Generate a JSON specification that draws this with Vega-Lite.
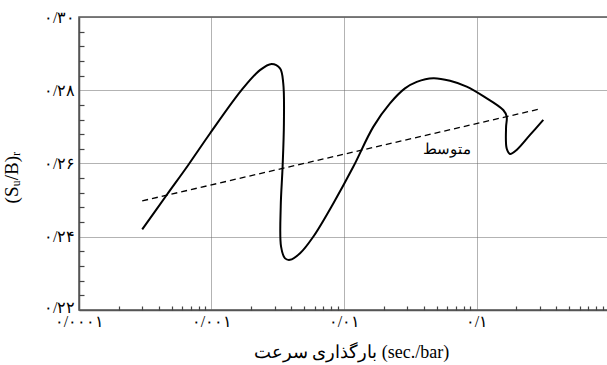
{
  "$schema": "https://vega.github.io/schema/vega-lite/v6.json",
  "autosize": "none",
  "width": 530,
  "height": 293,
  "padding": {"left": 79, "top": 17, "right": 0, "bottom": 55},
  "background": "white",
  "config": {
    "view": {"stroke": "#555", "strokeWidth": 1.5},
    "font": "Liberation Serif"
  },
  "datasets": {
    "curve": [
      {"i": 1, "x": 0.000300, "y": 0.2420},
      {"i": 2, "x": 0.000459, "y": 0.2514},
      {"i": 3, "x": 0.000668, "y": 0.2596},
      {"i": 4, "x": 0.000974, "y": 0.2682},
      {"i": 5, "x": 0.00169, "y": 0.2801},
      {"i": 6, "x": 0.00232, "y": 0.2855},
      {"i": 7, "x": 0.00284, "y": 0.2872},
      {"i": 8, "x": 0.00329, "y": 0.2860},
      {"i": 9, "x": 0.00348, "y": 0.2819},
      {"i": 10, "x": 0.00352, "y": 0.2710},
      {"i": 11, "x": 0.00344, "y": 0.2591},
      {"i": 12, "x": 0.00333, "y": 0.2482},
      {"i": 13, "x": 0.00335, "y": 0.2373},
      {"i": 14, "x": 0.00359, "y": 0.2341},
      {"i": 15, "x": 0.00391, "y": 0.2337},
      {"i": 16, "x": 0.00466, "y": 0.2355},
      {"i": 17, "x": 0.00586, "y": 0.2400},
      {"i": 18, "x": 0.00830, "y": 0.2491},
      {"i": 19, "x": 0.01175, "y": 0.2591},
      {"i": 20, "x": 0.01663, "y": 0.2700},
      {"i": 21, "x": 0.02223, "y": 0.2764},
      {"i": 22, "x": 0.02884, "y": 0.2805},
      {"i": 23, "x": 0.03540, "y": 0.2823},
      {"i": 24, "x": 0.04721, "y": 0.2833},
      {"i": 25, "x": 0.0631, "y": 0.2826},
      {"i": 26, "x": 0.0843, "y": 0.2810},
      {"i": 27, "x": 0.1125, "y": 0.2784},
      {"i": 28, "x": 0.1592, "y": 0.2746},
      {"i": 29, "x": 0.1690, "y": 0.2728},
      {"i": 30, "x": 0.1672, "y": 0.2700},
      {"i": 31, "x": 0.1690, "y": 0.2641},
      {"i": 32, "x": 0.1791, "y": 0.2626},
      {"i": 33, "x": 0.2009, "y": 0.2637},
      {"i": 34, "x": 0.2535, "y": 0.2678},
      {"i": 35, "x": 0.3192, "y": 0.2719}
    ],
    "avg": [
      {"i": 1, "x": 0.000300, "y": 0.2498},
      {"i": 2, "x": 0.3013, "y": 0.2749}
    ],
    "lbl": [
      {"x": 0.0596, "y": 0.2639, "t": "متوسط"}
    ]
  },
  "resolve": {"axis": {"x": "independent", "y": "independent"}},
  "layer": [
    {
      "data": {"name": "curve"},
      "mark": {"type": "line", "color": "black", "strokeWidth": 2, "interpolate": "catmull-rom"},
      "encoding": {
        "order": {"field": "i", "type": "quantitative"},
        "x": {
          "field": "x", "type": "quantitative",
          "scale": {"type": "log", "domain": [0.0001, 1], "nice": false},
          "axis": {
            "orient": "bottom",
            "title": "بارگذاری سرعت (sec./bar)",
            "titleFont": "Liberation Serif", "titleFontSize": 18, "titleFontWeight": "normal", "titleColor": "black",
            "titleBaseline": "middle", "titleY": 42, "titleX": 272,
            "values": [0.0001, 0.001, 0.01, 0.1, 1],
            "labelExpr": "datum.value == 0.0001 ? '۰/۰۰۰۱' : datum.value == 0.001 ? '۰/۰۰۱' : datum.value == 0.01 ? '۰/۰۱' : datum.value == 0.1 ? '۰/۱' : datum.value == 1 ? '۱' : ''",
            "labelFont": "Liberation Serif", "labelFontSize": 16, "labelColor": "black",
            "labelPadding": 3, "labelFlush": false, "labelOverlap": false,
            "ticks": false,
            "domainColor": "#555", "domainWidth": 1.5,
            "grid": true, "gridColor": "#666", "gridDash": [1, 1], "gridWidth": 1
          }
        },
        "y": {
          "field": "y", "type": "quantitative",
          "scale": {"domain": [0.22, 0.30], "nice": false, "zero": false},
          "axis": {
            "orient": "left",
            "title": "(Sᵤ/B)ᵣ",
            "titleFont": "Liberation Serif", "titleFontSize": 19, "titleFontWeight": "normal", "titleColor": "black",
            "titleX": -58, "titleY": 160,
            "values": [0.22, 0.24, 0.26, 0.28, 0.30],
            "labelExpr": "datum.value == 0.22 ? '۰/۲۲' : datum.value == 0.24 ? '۰/۲۴' : datum.value == 0.26 ? '۰/۲۶' : datum.value == 0.28 ? '۰/۲۸' : datum.value == 0.30 ? '۰/۳۰' : ''",
            "labelFont": "Liberation Serif", "labelFontSize": 16, "labelColor": "black",
            "labelPadding": 4, "labelFlush": false, "labelOverlap": false,
            "labelOffset": {"condition": {"test": "datum.value == 0.22", "value": -3}, "value": 0},
            "ticks": false,
            "domainColor": "#555", "domainWidth": 1.5,
            "grid": true, "gridColor": "#666", "gridDash": [1, 1], "gridWidth": 1
          }
        }
      }
    },
    {
      "data": {"name": "avg"},
      "mark": {"type": "line", "color": "black", "strokeWidth": 1.3, "strokeDash": [6, 4]},
      "encoding": {
        "order": {"field": "i", "type": "quantitative"},
        "x": {
          "field": "x", "type": "quantitative",
          "scale": {"type": "log", "domain": [0.0001, 1], "nice": false},
          "axis": {
            "orient": "top", "offset": -293,
            "title": null, "labels": false, "domain": false, "grid": false,
            "values": [0.0002, 0.0003, 0.0004, 0.0005, 0.0006, 0.0007, 0.0008, 0.0009,
                       0.002, 0.003, 0.004, 0.005, 0.006, 0.007, 0.008, 0.009,
                       0.02, 0.03, 0.04, 0.05, 0.06, 0.07, 0.08, 0.09,
                       0.2, 0.3, 0.4, 0.5, 0.6, 0.7, 0.8, 0.9],
            "ticks": true, "tickSize": 4, "tickColor": "#444", "tickWidth": 1.2, "tickOpacity": 1
          }
        },
        "y": {
          "field": "y", "type": "quantitative",
          "scale": {"domain": [0.22, 0.30], "nice": false, "zero": false},
          "axis": {
            "orient": "right", "offset": -530,
            "title": null, "labels": false, "domain": false, "grid": false,
            "values": [0.224, 0.228, 0.232, 0.236, 0.244, 0.248, 0.252, 0.256, 0.264, 0.268, 0.272, 0.276, 0.284, 0.288, 0.292, 0.296],
            "ticks": true, "tickSize": 5, "tickColor": "#444", "tickWidth": 1.2, "tickOpacity": 1
          }
        }
      }
    },
    {
      "data": {"name": "lbl"},
      "mark": {"type": "text", "font": "Liberation Serif", "fontSize": 15, "color": "black", "align": "center", "baseline": "middle"},
      "encoding": {
        "text": {"field": "t"},
        "x": {"field": "x", "type": "quantitative", "scale": {"type": "log", "domain": [0.0001, 1], "nice": false}, "axis": null},
        "y": {"field": "y", "type": "quantitative", "scale": {"domain": [0.22, 0.30], "nice": false, "zero": false}, "axis": null}
      }
    }
  ]
}
